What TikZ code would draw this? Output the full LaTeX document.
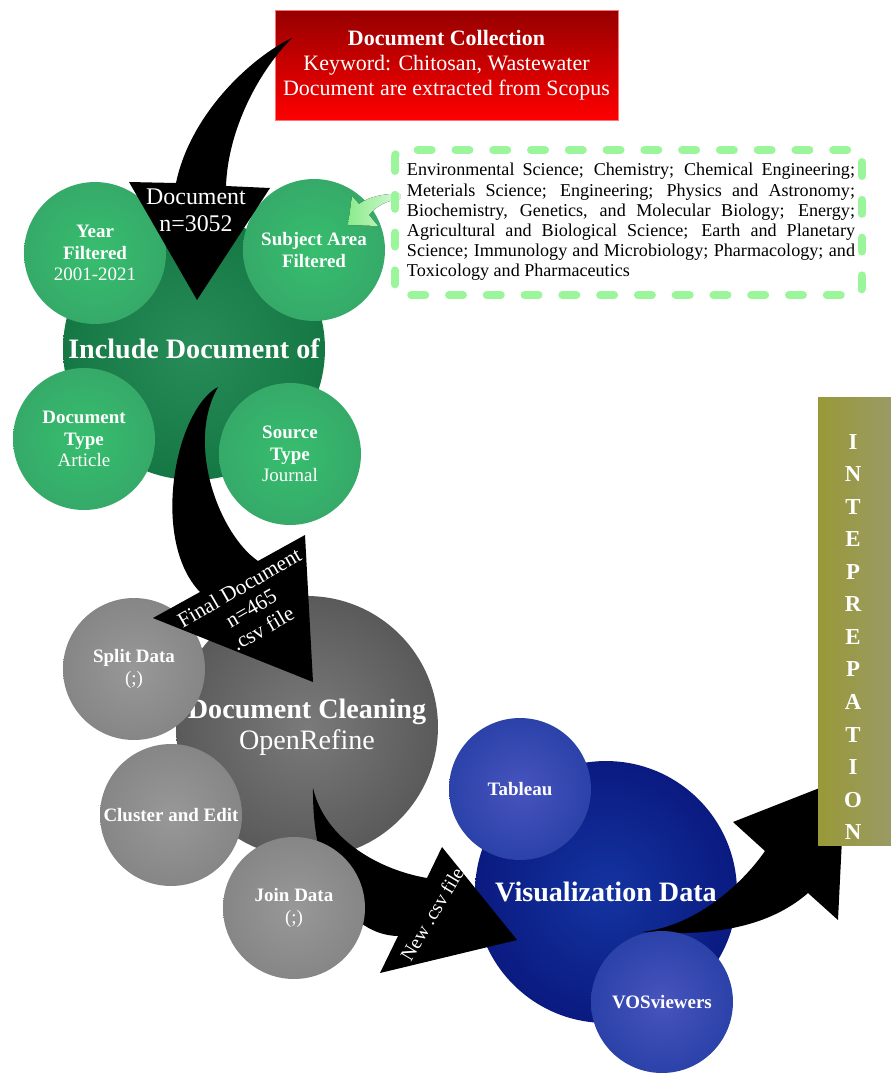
\documentclass[tikz,border=0pt]{standalone}
\usepackage{fontspec}
\setmainfont{Liberation Serif}
\makeatletter
\pgfdeclareradialshading[tikz@radial@inner,tikz@radial@outer]{orb}{\pgfpoint{0bp}{0bp}}{color(0bp)=(tikz@radial@inner); color(50bp)=(tikz@radial@outer)}
\makeatother
\definecolor{greenbigin}{RGB}{40,140,88}
\definecolor{greenbigout}{RGB}{0,98,48}
\definecolor{greenin}{RGB}{55,190,110}
\definecolor{greenout}{RGB}{52,150,100}
\definecolor{graybigin}{RGB}{122,122,122}
\definecolor{graybigout}{RGB}{58,58,58}
\definecolor{grayin}{RGB}{152,152,152}
\definecolor{grayout}{RGB}{116,116,116}
\definecolor{bluebigin}{RGB}{20,52,160}
\definecolor{bluebigout}{RGB}{0,0,98}
\definecolor{bluein}{RGB}{72,84,190}
\definecolor{blueout}{RGB}{14,48,148}
\definecolor{redtop}{RGB}{150,0,0}
\definecolor{redbot}{RGB}{255,0,0}
\definecolor{dashgreen}{RGB}{155,245,155}
\definecolor{lightgreen}{RGB}{140,235,140}
\definecolor{olivea}{RGB}{153,153,55}
\definecolor{oliveb}{RGB}{154,154,102}

\begin{document}
\begin{tikzpicture}[x=0.02cm, y=-0.02cm,
	orbnode/.style n args={3}{circle, inner sep=0pt, align=center, text=white, minimum size=#1, inner color=#2, outer color=#3, shading=orb},
	greenbig/.style={orbnode={5.24cm}{greenbigin}{greenbigout}, font=\bfseries\fontsize{16}{18}\selectfont},
	greensmall/.style={orbnode={2.84cm}{greenin}{greenout}, font=\fontsize{10.8}{12.4}\selectfont},
	graybig/.style={orbnode={5.24cm}{graybigin}{graybigout}, font=\fontsize{16}{17.6}\selectfont},
	graysmall/.style={orbnode={2.84cm}{grayin}{grayout}, font=\fontsize{10.8}{12.8}\selectfont},
	bluebig/.style={orbnode={5.24cm}{bluebigin}{bluebigout}, font=\fontsize{16}{18}\selectfont},
	bluesmall/.style={orbnode={2.84cm}{bluein}{blueout}, font=\fontsize{10.8}{12.4}\selectfont},
	arrowtext/.style={text=white, align=center, inner sep=0pt}]
	\useasboundingbox (0,0) rectangle (891,1073);
	% collection
	\node (coll) [minimum width=6.86cm, minimum height=2.2cm, top color=redtop, bottom color=redbot, draw=red!55!white, line width=0.5pt, text=white, align=center, font=\fontsize{12.5}{14.2}\selectfont] at (446.5,65) {\textbf{Document Collection}\\Keyword: Chitosan, Wastewater\\Document are extracted from Scopus};
	% include
	\node (incl) [greenbig] at (194,349) {Include Document of};
	\node (year) [greensmall] at (95,253) {\textbf{Year}\\\textbf{Filtered}\\2001-2021};
	\node (subj) [greensmall] at (314,250) {\textbf{Subject Area}\\\textbf{Filtered}};
	\node (dtype) [greensmall] at (84,439) {\textbf{Document}\\\textbf{Type}\\Article};
	\node (stype) [greensmall] at (290,454) {\textbf{Source}\\\textbf{Type}\\Journal};
	\fill (292,38) .. controls (250,58) and (190,115) .. (176,183) -- (129,182) -- (197,300) -- (270,188) -- (226,186) .. controls (228,130) and (258,72) .. (292,38) -- cycle;
	\node (n3052) [arrowtext, font=\fontsize{13.6}{15.3}\selectfont] at (196,210) {Document\\n=3052};
	% cleaning and visualization
	\node (clean) [graybig] at (307,727) {\textbf{Document Cleaning}\\OpenRefine};
	\node (vis) [bluebig] at (606,892) {\textbf{Visualization Data}};
	\node (tabl) [bluesmall] at (520,789) {\textbf{Tableau}};
	\fill (313,788) .. controls (312,880) and (350,935) .. (398,936) -- (380,973) -- (517,940) -- (442,847) -- (427,878) .. controls (380,870) and (325,840) .. (313,788) -- cycle;
	\node (newcsv) [arrowtext, rotate=59, font=\fontsize{11.2}{13}\selectfont] at (432,914) {New .csv file};
	\fill (642,932) .. controls (690,935) and (760,935) .. (808,893) -- (838,920) -- (845,778) -- (733,822) -- (765,851) .. controls (745,880) and (700,925) .. (642,932) -- cycle;
	\node (vos) [bluesmall] at (662,1002) {\textbf{VOSviewers}};
	\node (split) [graysmall] at (134,669) {\textbf{Split Data}\\(;)};
	\node (clust) [graysmall] at (171,815) {\textbf{Cluster and Edit}};
	\node (join) [graysmall] at (294,908) {\textbf{Join Data}\\(;)};
	\fill (218,387) .. controls (175,410) and (150,540) .. (200,592) -- (153,618) -- (313,682) -- (305,535) -- (258,561) .. controls (220,535) and (185,445) .. (218,387) -- cycle;
	\node (n465) [arrowtext, rotate=30, font=\fontsize{12.2}{13.4}\selectfont] at (251,608) {Final Document\\n=465\\.csv file};
	% subject areas
	\fill[left color=lightgreen, right color=lightgreen!35!white] (400,194) .. controls (385,193) and (368,197) .. (359,204) -- (352,196) -- (348,225) -- (378,226) -- (369,215) .. controls (376,206) and (388,200) .. (400,199) -- cycle;
	\draw[dashgreen, line width=4.5pt, line cap=round, dash pattern=on 8pt off 13.5pt, rounded corners=4pt] (395,150) rectangle (862,295);
	\node (areas) [text width=255pt, align=justify, inner sep=0pt, font=\fontsize{10.3}{11.5}\selectfont] at (631,222) {Environmental Science; Chemistry; Chemical Engineering;\linebreak Meterials Science; Engineering; Physics and Astronomy;\linebreak Biochemistry, Genetics, and Molecular Biology; Energy;\linebreak Agricultural and Biological Science; Earth and Planetary\linebreak Science; Immunology and Microbiology; Pharmacology; and\linebreak Toxicology and Pharmaceutics};
	% interpretation
	\fill[left color=olivea, middle color=olivea, right color=oliveb] (818,397) rectangle (891,845);
	\node (interp) [text=white, align=center, inner sep=0pt, font=\bfseries\fontsize{13}{18.5}\selectfont] at (853,637) {I\\N\\T\\E\\P\\R\\E\\P\\A\\T\\I\\O\\N};
\end{tikzpicture}
\end{document}
